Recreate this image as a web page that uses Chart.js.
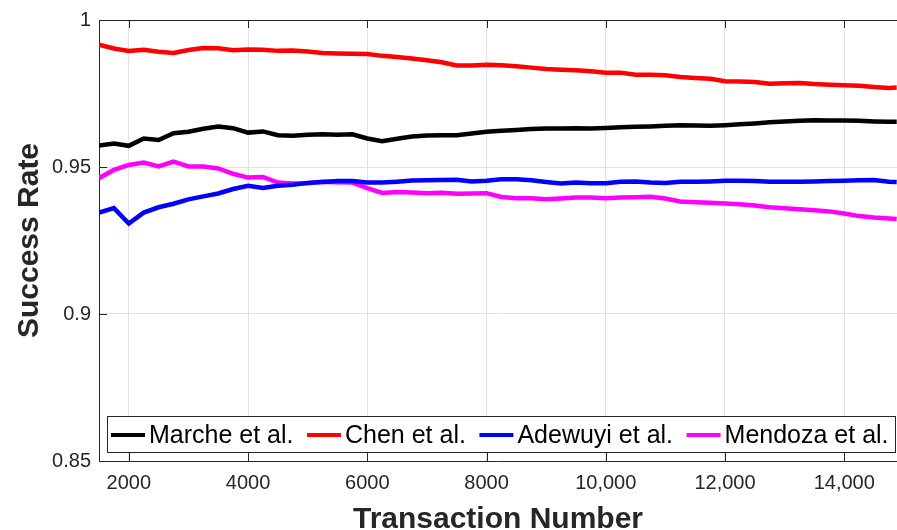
<!DOCTYPE html>
<html>
<head>
<meta charset="utf-8">
<title>Success Rate vs Transaction Number</title>
<script src="https://cdn.jsdelivr.net/npm/chart.js@4.4.0/dist/chart.umd.min.js"></script>
<style>
  html, body { margin: 0; padding: 0; background: #ffffff; }
  canvas { display: block; }
</style>
</head>
<body>
<canvas id="chart" width="897" height="530"></canvas>
<script>
// Transaction numbers at which the running success rate is sampled
const transactions = [
  1500, 1750, 2000, 2250, 2500, 2750, 3000, 3250, 3500, 3750,
  4000, 4250, 4500, 4750, 5000, 5250, 5500, 5750, 6000, 6250,
  6500, 6750, 7000, 7250, 7500, 7750, 8000, 8250, 8500, 8750,
  9000, 9250, 9500, 9750, 10000, 10250, 10500, 10750, 11000, 11250,
  11500, 11750, 12000, 12250, 12500, 12750, 13000, 13250, 13500, 13750,
  14000, 14250, 14500, 14750, 14880
];

// Running success rate per approach
const marche = [
  0.9573, 0.9580, 0.9572, 0.9597, 0.9592, 0.9615, 0.9620, 0.9630, 0.9638, 0.9632,
  0.9617, 0.9621, 0.9608, 0.9606, 0.9610, 0.9611, 0.9610, 0.9611, 0.9597, 0.9588,
  0.9596, 0.9604, 0.9607, 0.9608, 0.9608, 0.9614, 0.9620, 0.9623, 0.9626, 0.9629,
  0.9631, 0.9631, 0.9632, 0.9631, 0.9633, 0.9635, 0.9637, 0.9638, 0.9640, 0.9642,
  0.9641, 0.9640, 0.9642, 0.9645, 0.9648, 0.9652, 0.9655, 0.9657, 0.9659, 0.9658,
  0.9658, 0.9657, 0.9655, 0.9654, 0.9654
];
const chen = [
  0.9916, 0.9903, 0.9895, 0.9899, 0.9892, 0.9888, 0.9898, 0.9905, 0.9904, 0.9897,
  0.9900, 0.9899, 0.9895, 0.9896, 0.9893, 0.9888, 0.9886, 0.9885, 0.9884, 0.9878,
  0.9874, 0.9869, 0.9863, 0.9856, 0.9845, 0.9845, 0.9848, 0.9846, 0.9843, 0.9838,
  0.9833, 0.9831, 0.9829, 0.9826, 0.9821, 0.9821, 0.9814, 0.9814, 0.9812, 0.9806,
  0.9803, 0.9800, 0.9792, 0.9791, 0.9789, 0.9783, 0.9785, 0.9786, 0.9782, 0.9780,
  0.9778, 0.9776, 0.9772, 0.9769, 0.9770
];
const adewuyi = [
  0.9345, 0.9360, 0.9308, 0.9345, 0.9363, 0.9375, 0.9390, 0.9400, 0.9410, 0.9425,
  0.9436, 0.9429, 0.9436, 0.9440, 0.9446, 0.9449, 0.9452, 0.9452, 0.9447, 0.9447,
  0.9450, 0.9454, 0.9455, 0.9456, 0.9457, 0.9451, 0.9453, 0.9458, 0.9458, 0.9455,
  0.9449, 0.9444, 0.9447, 0.9445, 0.9445, 0.9450, 0.9451, 0.9447, 0.9446, 0.9450,
  0.9450, 0.9451, 0.9453, 0.9453, 0.9452, 0.9450, 0.9450, 0.9450, 0.9451, 0.9452,
  0.9453, 0.9455, 0.9456, 0.9450, 0.9449
];
const mendoza = [
  0.9462, 0.9490, 0.9507, 0.9515, 0.9502, 0.9518, 0.9502, 0.9502, 0.9495, 0.9477,
  0.9464, 0.9466, 0.9447, 0.9444, 0.9445, 0.9450, 0.9448, 0.9447, 0.9428, 0.9412,
  0.9415, 0.9413, 0.9411, 0.9412, 0.9409, 0.9410, 0.9411, 0.9398, 0.9394, 0.9394,
  0.9390, 0.9393, 0.9396, 0.9396, 0.9394, 0.9396, 0.9397, 0.9399, 0.9393, 0.9383,
  0.9380, 0.9378, 0.9376, 0.9373, 0.9369, 0.9363, 0.9360, 0.9356, 0.9353, 0.9349,
  0.9342, 0.9333, 0.9328, 0.9325, 0.9323
];

const seriesNames = ['Marche et al.', 'Chen et al.', 'Adewuyi et al.', 'Mendoza et al.'];
const seriesColors = ['#000000', '#ff0000', '#0000ff', '#ff00ff'];

// Axis ticks
const xTickValues = [2000, 4000, 6000, 8000, 10000, 12000, 14000];
const xTickLabels = ['2000', '4000', '6000', '8000', '10,000', '12,000', '14,000'];
const yTickValues = [0.85, 0.9, 0.95, 1];
const yTickLabels = ['0.85', '0.9', '0.95', '1'];

const FONT = '"Liberation Sans", Arial, Helvetica, sans-serif';
const AXIS_COLOR = '#262626';
const GRID_COLOR = '#e2e2e2';

const seriesValues = [marche, chen, adewuyi, mendoza];
const datasets = seriesValues.map((vals, i) => ({
  label: seriesNames[i],
  data: vals.map((v, j) => ({ x: transactions[j], y: v })),
  borderColor: seriesColors[i],
  backgroundColor: seriesColors[i],
  borderWidth: 4.5,
  pointRadius: 0,
  tension: 0,
  fill: false
}));

// Box outline with inward tick marks (top/bottom for x, left for y)
const framePlugin = {
  id: 'frame',
  afterDatasetsDraw(chart) {
    const { ctx, chartArea: a, scales } = chart;
    ctx.save();
    ctx.strokeStyle = AXIS_COLOR;
    ctx.lineWidth = 1;
    ctx.beginPath();
    ctx.moveTo(a.left, a.top + 0.5);
    ctx.lineTo(a.right, a.top + 0.5);
    const tl = 8;
    xTickValues.forEach(v => {
      const px = Math.round(scales.x.getPixelForValue(v)) + 0.5;
      ctx.moveTo(px, a.bottom);
      ctx.lineTo(px, a.bottom - tl);
      ctx.moveTo(px, a.top);
      ctx.lineTo(px, a.top + tl);
    });
    yTickValues.forEach(v => {
      const py = Math.round(scales.y.getPixelForValue(v)) + 0.5;
      ctx.moveTo(a.left, py);
      ctx.lineTo(a.left + tl, py);
    });
    ctx.stroke();
    ctx.restore();
  }
};

// Single-row legend drawn inside the lower part of the plot
const legendBoxPlugin = {
  id: 'legendBox',
  afterDraw(chart) {
    const { ctx, chartArea: a } = chart;
    ctx.save();
    ctx.font = '25px ' + FONT;
    const sampleLen = 34, sampleGap = 4, itemGap = 13.5, padL = 4, padR = 6;
    const boxLeft = a.left + 8;
    const boxTop = a.bottom - 45;
    const boxH = 36;
    let width = padL;
    chart.data.datasets.forEach((ds, i) => {
      width += sampleLen + sampleGap + ctx.measureText(ds.label).width;
      if (i < chart.data.datasets.length - 1) width += itemGap;
    });
    width += padR;
    ctx.fillStyle = '#ffffff';
    ctx.fillRect(boxLeft, boxTop, width, boxH);
    ctx.strokeStyle = AXIS_COLOR;
    ctx.lineWidth = 1;
    ctx.strokeRect(Math.round(boxLeft) + 0.5, Math.round(boxTop) + 0.5, Math.round(width), boxH);
    const cy = boxTop + boxH / 2 + 1;
    let x = boxLeft + padL;
    ctx.textBaseline = 'middle';
    ctx.textAlign = 'left';
    chart.data.datasets.forEach(ds => {
      ctx.strokeStyle = ds.borderColor;
      ctx.lineWidth = 4;
      ctx.beginPath();
      ctx.moveTo(x, cy);
      ctx.lineTo(x + sampleLen, cy);
      ctx.stroke();
      x += sampleLen + sampleGap;
      ctx.fillStyle = '#000000';
      ctx.fillText(ds.label, x, cy + 1);
      x += ctx.measureText(ds.label).width + itemGap;
    });
    ctx.restore();
  }
};

new Chart(document.getElementById('chart'), {
  type: 'line',
  data: { datasets },
  plugins: [framePlugin, legendBoxPlugin],
  options: {
    responsive: false,
    animation: false,
    devicePixelRatio: 1,
    layout: { padding: { top: 18, right: 0, bottom: 0, left: 0 } },
    plugins: {
      legend: { display: false },
      tooltip: { enabled: false }
    },
    scales: {
      x: {
        type: 'linear',
        min: 1500,
        max: 14885,
        afterBuildTicks: s => { s.ticks = xTickValues.map(v => ({ value: v })); },
        afterFit: s => { s.height = 69; },
        ticks: {
          autoSkip: false,
          maxRotation: 0,
          padding: 10,
          color: AXIS_COLOR,
          font: { family: FONT, size: 20 },
          callback: v => xTickLabels[xTickValues.indexOf(v)]
        },
        grid: { color: GRID_COLOR, lineWidth: 1, drawTicks: false },
        border: { color: AXIS_COLOR, width: 1 },
        title: {
          display: true,
          text: 'Transaction Number',
          color: AXIS_COLOR,
          font: { family: FONT, size: 30, weight: 'bold', lineHeight: 0.67 },
          padding: { top: 0, bottom: 0 }
        }
      },
      y: {
        min: 0.85,
        max: 1,
        afterBuildTicks: s => { s.ticks = yTickValues.map(v => ({ value: v })); },
        afterFit: s => { s.width = 99; },
        ticks: {
          padding: 8,
          color: AXIS_COLOR,
          font: { family: FONT, size: 20 },
          callback: v => yTickLabels[yTickValues.findIndex(t => Math.abs(t - v) < 1e-9)]
        },
        grid: { color: GRID_COLOR, lineWidth: 1, drawTicks: false },
        border: { color: AXIS_COLOR, width: 1 },
        title: {
          display: true,
          text: 'Success Rate',
          color: AXIS_COLOR,
          font: { family: FONT, size: 30, weight: 'bold', lineHeight: 1 },
          padding: { top: 15, bottom: 0 }
        }
      }
    }
  }
});
</script>
</body>
</html>
